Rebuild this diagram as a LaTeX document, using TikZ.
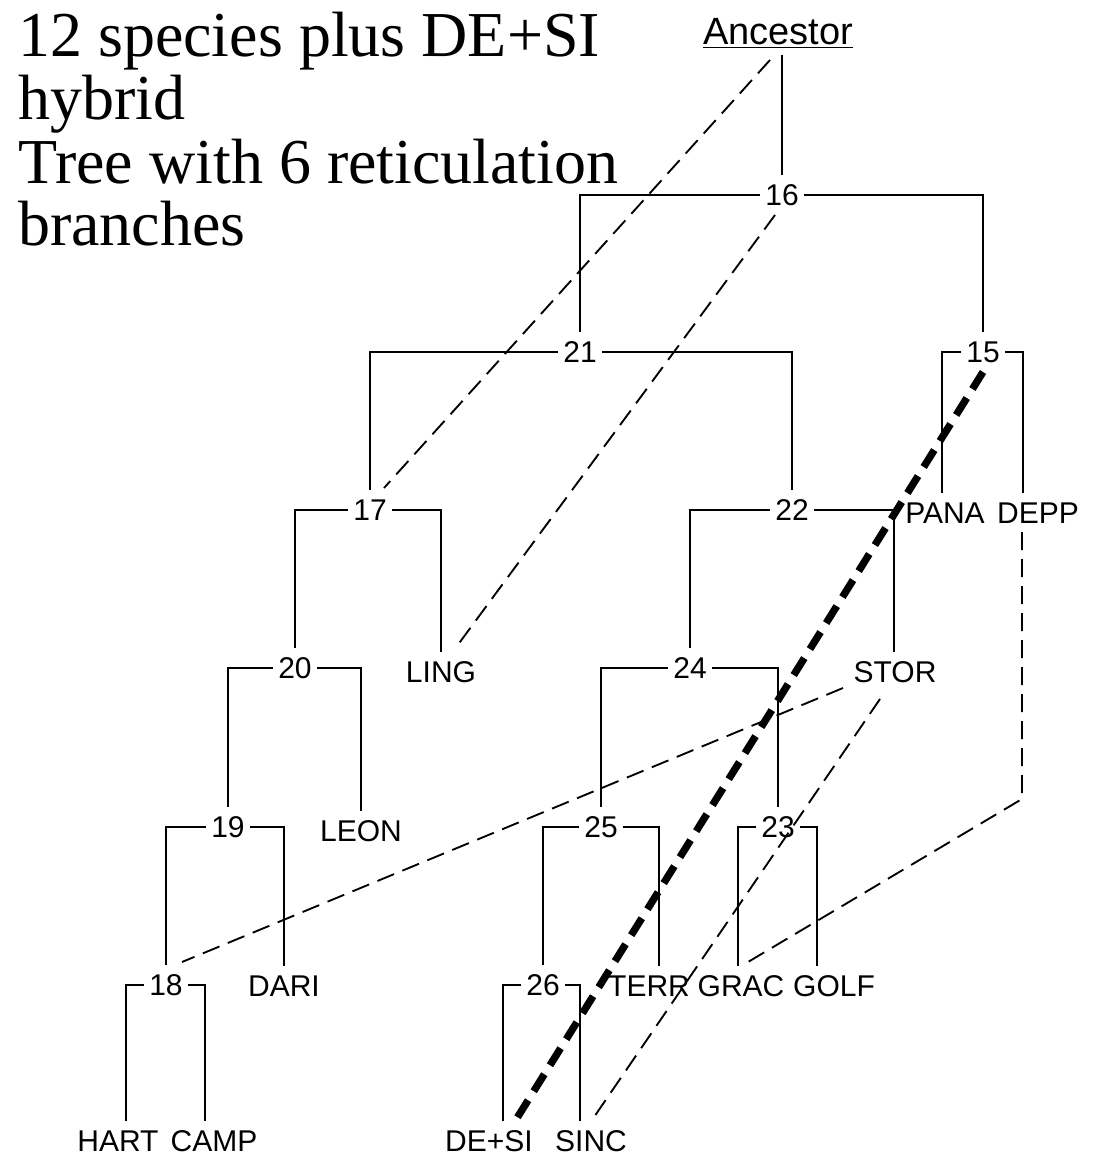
\documentclass[tikz,border=0pt]{standalone}
\usepackage{fontspec}
\setmainfont{Liberation Serif}
\newfontfamily\arialf{Liberation Sans}
\begin{document}
\begin{tikzpicture}[x=0.75pt,y=-0.75pt,
  tree/.style={line width=1.6pt},
  ret/.style={line width=1.4pt, dash pattern=on 13.5pt off 6.75pt},
  hyb/.style={line width=5.5pt, dash pattern=on 15pt off 8pt},
  num/.style={font=\arialf\fontsize{22.5pt}{27pt}\selectfont, inner xsep=3.75pt, inner ysep=7pt},
  leaf/.style={font=\arialf\fontsize{22.5pt}{27pt}\selectfont, inner xsep=0pt, inner ysep=7pt},
  ttl/.style={font=\fontsize{48pt}{58pt}\selectfont, anchor=base west, inner sep=0pt}
]
\useasboundingbox (0,0) rectangle (1092,1159);

% title
\node[ttl] (t1) at (18,57) {12 species plus DE+SI};
\node[ttl] (t2) at (18,120) {hybrid};
\node[ttl] (t3) at (18,183) {Tree with 6 reticulation};
\node[ttl] (t4) at (18,245) {branches};

% root
\node[font=\arialf\fontsize{28.5pt}{34pt}\selectfont, anchor=base, inner sep=5pt] (anc) at (778,45) {\underline{Ancestor}};

% internal nodes
\node[num] (n16) at (782,195) {16\hspace{4.5pt}};
\node[num] (n21) at (580,352) {21\hspace{4.5pt}};
\node[num] (n15) at (983,352) {15\hspace{4.5pt}};
\node[num] (n17) at (370,510) {17\hspace{4.5pt}};
\node[num] (n22) at (792,510) {22\hspace{4.5pt}};
\node[num] (n20) at (295,668) {20\hspace{4.5pt}};
\node[num] (n24) at (690,668) {24\hspace{4.5pt}};
\node[num] (n19) at (228,827) {19\hspace{4.5pt}};
\node[num] (n25) at (601,827) {25\hspace{4.5pt}};
\node[num] (n23) at (778,827) {23\hspace{4.5pt}};
\node[num] (n18) at (166,985) {18\hspace{4.5pt}};
\node[num] (n26) at (543,985) {26\hspace{4.5pt}};

% leaves
\node[leaf] (pana) at (945,513) {PANA};
\node[leaf] (depp) at (1038,513) {DEPP};
\node[leaf] (ling) at (441,672) {LING};
\node[leaf] (stor) at (895,672) {STOR};
\node[leaf] (leon) at (361,831) {LEON};
\node[leaf] (dari) at (284,986) {DARI};
\node[leaf] (terr) at (649,986) {TERR};
\node[leaf] (grac) at (741,986) {GRAC};
\node[leaf] (golf) at (834,986) {GOLF};
\node[leaf] (hart) at (118,1141) {HART};
\node[leaf] (camp) at (214,1141) {CAMP};
\node[leaf] (desi) at (489,1141) {DE+SI};
\node[leaf] (sinc) at (591,1141) {SINC};

% tree edges
\draw[tree] (n16.north) -- (n16.north |- anc.south);
\draw[tree] (n16.west) -| (n21.north);
\draw[tree] (n16.east) -| (n15.north);
\draw[tree] (n21.west) -| (n17.north);
\draw[tree] (n21.east) -| (n22.north);
\draw[tree] (n15.west) -| ([xshift=-2.25pt]pana.north);
\draw[tree] (n15.east) -| ([xshift=-11.25pt]depp.north);
\draw[tree] (n17.west) -| (n20.north);
\draw[tree] (n17.east) -| (ling.north);
\draw[tree] (n22.west) -| (n24.north);
\draw[tree] (n22.east) -| ([xshift=-0.75pt]stor.north);
\draw[tree] (n20.west) -| (n19.north);
\draw[tree] (n20.east) -| (leon.north);
\draw[tree] (n24.west) -| (n25.north);
\draw[tree] (n24.east) -| (n23.north);
\draw[tree] (n19.west) -| (n18.north);
\draw[tree] (n19.east) -| (dari.north);
\draw[tree] (n25.west) -| (n26.north);
\draw[tree] (n25.east) -| ([xshift=7.5pt]terr.north);
\draw[tree] (n23.west) -| ([xshift=-2.25pt]grac.north);
\draw[tree] (n23.east) -| ([xshift=-12.75pt]golf.north);
\draw[tree] (n18.west) -| ([xshift=6pt]hart.north);
\draw[tree] (n18.east) -| ([xshift=-6.75pt]camp.north);
\draw[tree] (n26.west) -| ([xshift=10.5pt]desi.north);
\draw[tree] (n26.east) -| ([xshift=-8.25pt]sinc.north);

% reticulation end points
\coordinate (r1a) at (770,60);   \coordinate (r1b) at (384,488);
\coordinate (r2a) at (775,215);  \coordinate (r2b) at (457,646);
\coordinate (r3a) at (843,688);  \coordinate (r3b) at (182,962);
\coordinate (r4a) at (880,699);  \coordinate (r4b) at (592,1120);
\coordinate (r5a) at (1022,532); \coordinate (r5m) at (1022,799); \coordinate (r5b) at (748,962);
\coordinate (r6a) at (983,372);  \coordinate (r6b) at (517,1118);

% reticulation branches
\draw[ret] (r1a) -- (r1b);
\draw[ret] (r2a) -- (r2b);
\draw[ret] (r3a) -- (r3b);
\draw[ret] (r4a) -- (r4b);
\draw[ret] (r5a) -- (r5m) -- (r5b);
\draw[hyb] (r6a) -- (r6b);
\end{tikzpicture}
\end{document}
